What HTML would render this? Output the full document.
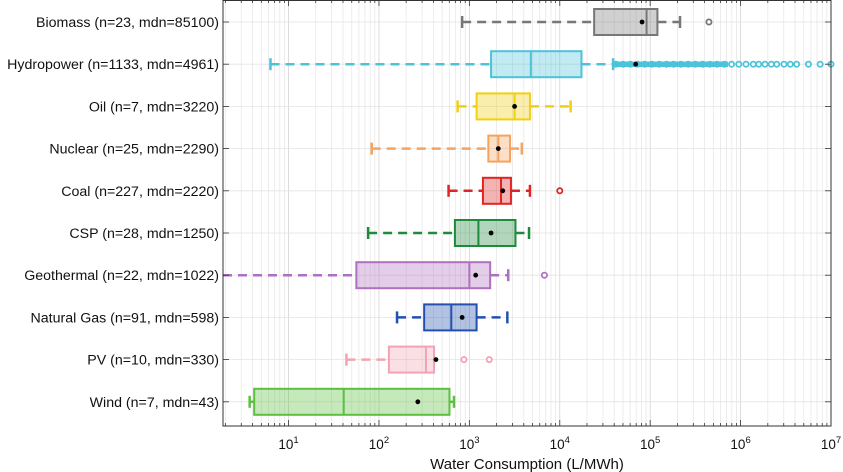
<!DOCTYPE html>
<html><head><meta charset="utf-8"><style>
html,body{margin:0;padding:0;background:#fff;}
svg{display:block;font-family:"Liberation Sans",Arial,sans-serif;}
</style></head><body>
<svg id="chart" width="843" height="472" viewBox="0 0 843 472"></svg>
<script>
const categories=["Biomass (n=23, mdn=85100)","Hydropower (n=1133, mdn=4961)","Oil (n=7, mdn=3220)","Nuclear (n=25, mdn=2290)","Coal (n=227, mdn=2220)","CSP (n=28, mdn=1250)","Geothermal (n=22, mdn=1022)","Natural Gas (n=91, mdn=598)","PV (n=10, mdn=330)","Wind (n=7, mdn=43)"];
// log10 values
const whiskerLow=[2.92,0.80,2.87,1.92,2.77,1.88,0.1,2.20,1.64,0.57];
const q1=[4.38,3.24,3.08,3.21,3.15,2.84,1.75,2.50,2.11,0.62];
const medians=[4.96,3.68,3.50,3.32,3.35,3.10,3.00,2.80,2.52,1.61];
const q3=[5.08,4.24,3.67,3.45,3.46,3.51,3.23,3.08,2.61,2.78];
const whiskerHigh=[5.33,4.59,4.12,3.58,3.67,3.66,3.43,3.42,2.61,2.83];
const means=[4.91,4.84,3.50,3.32,3.37,3.24,3.07,2.92,2.63,2.43];
const outliers=[[5.65],[4.62,4.7,4.78,4.86,4.94,5.02,5.1,5.18,5.26,5.34,5.42,5.5,5.58,5.66,5.74,5.82,5.9,5.98,6.06,6.14,6.2,6.27,6.34,6.4,6.48,6.55,6.62,6.75,6.88,7.0],[],[],[4.0],[],[3.83],[],[2.94,3.22],[]];
const colors=["#777777","#4cc3d9","#f2cf10","#f5a35e","#e02424","#1f8a3c","#b070c0","#2350b0","#f2a3b3","#5cbf3f"];
const xTicks=[1,2,3,4,5,6,7];

const L=223,R=831,T=0,B=426;
const logMin=0.275,logMax=7.0;
const x=v=>L+(v-logMin)/(logMax-logMin)*(R-L);
const y=i=>22+i*42.2;
const svg=document.getElementById('chart');
const NS="http://www.w3.org/2000/svg";
function mk(tag,attrs,parent){const e=document.createElementNS(NS,tag);for(const k in attrs)e.setAttribute(k,attrs[k]);(parent||svg).appendChild(e);return e;}

const grid=mk('g',{});


for(let d=0;d<7;d++){for(let m=1;m<10;m++){const v=d+Math.log10(m);if(v<logMin||v>logMax)continue;
 mk('line',{x1:x(v),x2:x(v),y1:T,y2:B,stroke:m===1?'#d4d4d4':'#e8e8e8','stroke-width':0.8},grid);}}
categories.forEach((c,i)=>mk('line',{x1:L,x2:R,y1:y(i),y2:y(i),stroke:'#e3e3e3','stroke-width':0.8},grid));

categories.forEach((c,i)=>{
 const g=mk('g',{});
 
 
 const col=colors[i],cy=y(i),h=13;
 const wl=Math.max(whiskerLow[i],logMin);
 mk('line',{x1:x(wl),x2:x(q1[i]),y1:cy,y2:cy,stroke:col,'stroke-width':2.5,'stroke-dasharray':'9,6'},g);
 if(whiskerHigh[i]>q3[i]) mk('line',{x1:x(q3[i]),x2:x(whiskerHigh[i]),y1:cy,y2:cy,stroke:col,'stroke-width':2.5,'stroke-dasharray':'9,6'},g);
 if(whiskerLow[i]>=logMin) mk('line',{x1:x(wl),x2:x(wl),y1:cy-6,y2:cy+6,stroke:col,'stroke-width':2.5},g);
 if(whiskerHigh[i]>q3[i]) mk('line',{x1:x(whiskerHigh[i]),x2:x(whiskerHigh[i]),y1:cy-6,y2:cy+6,stroke:col,'stroke-width':2.5},g);
 mk('rect',{x:x(q1[i]),y:cy-h,width:x(q3[i])-x(q1[i]),height:2*h,fill:col,'fill-opacity':0.35,stroke:col,'stroke-width':2},g);
 mk('line',{x1:x(medians[i]),x2:x(medians[i]),y1:cy-h,y2:cy+h,stroke:col,'stroke-width':2},g);
 outliers[i].forEach(o=>mk('circle',{cx:x(o),cy:cy,r:2.6,fill:'#fff',stroke:col,'stroke-width':1.8},g));
 mk('circle',{cx:x(means[i]),cy:cy,r:2.4,fill:'#000'},g);
 const t=mk('text',{x:219,y:cy+5,'text-anchor':'end','font-size':14.2,fill:'#111'},svg);
 t.textContent=c;
 
 
 mk('line',{x1:L,x2:L+6,y1:cy,y2:cy,stroke:'#333','stroke-width':0.8});
 mk('line',{x1:R-6,x2:R,y1:cy,y2:cy,stroke:'#333','stroke-width':0.8});
});
const band=mk('line',{x1:x(whiskerHigh[1]),x2:x(5.86),y1:y(1),y2:y(1),stroke:colors[1],'stroke-width':5.5},svg);


mk('circle',{cx:x(means[1]),cy:y(1),r:2.4,fill:'#000'});

const ax=mk('rect',{x:L,y:T+0.5,width:R-L,height:B-T-0.5,fill:'none',stroke:'#333','stroke-width':1});


for(let d=0;d<7;d++){for(let m=1;m<10;m++){const v=d+Math.log10(m);if(v<logMin||v>logMax)continue;
 const len=m===1?6:3;
 mk('line',{x1:x(v),x2:x(v),y1:B,y2:B-len,stroke:'#333','stroke-width':0.8});
 mk('line',{x1:x(v),x2:x(v),y1:T,y2:T+len,stroke:'#333','stroke-width':0.8});}}
mk('line',{x1:x(7),x2:x(7),y1:B,y2:B-6,stroke:'#333'});
xTicks.forEach(p=>{
 const t=mk('text',{x:x(p),y:449,'text-anchor':'middle','font-size':13.5,fill:'#111'});
 
 
 t.innerHTML='10<tspan dy="-6" font-size="9.5">'+p+'</tspan>';
});
const xt=mk('text',{x:527,y:469,'text-anchor':'middle','font-size':15,fill:'#111'});
xt.textContent='Water Consumption (L/MWh)';


</script>
</body></html>
